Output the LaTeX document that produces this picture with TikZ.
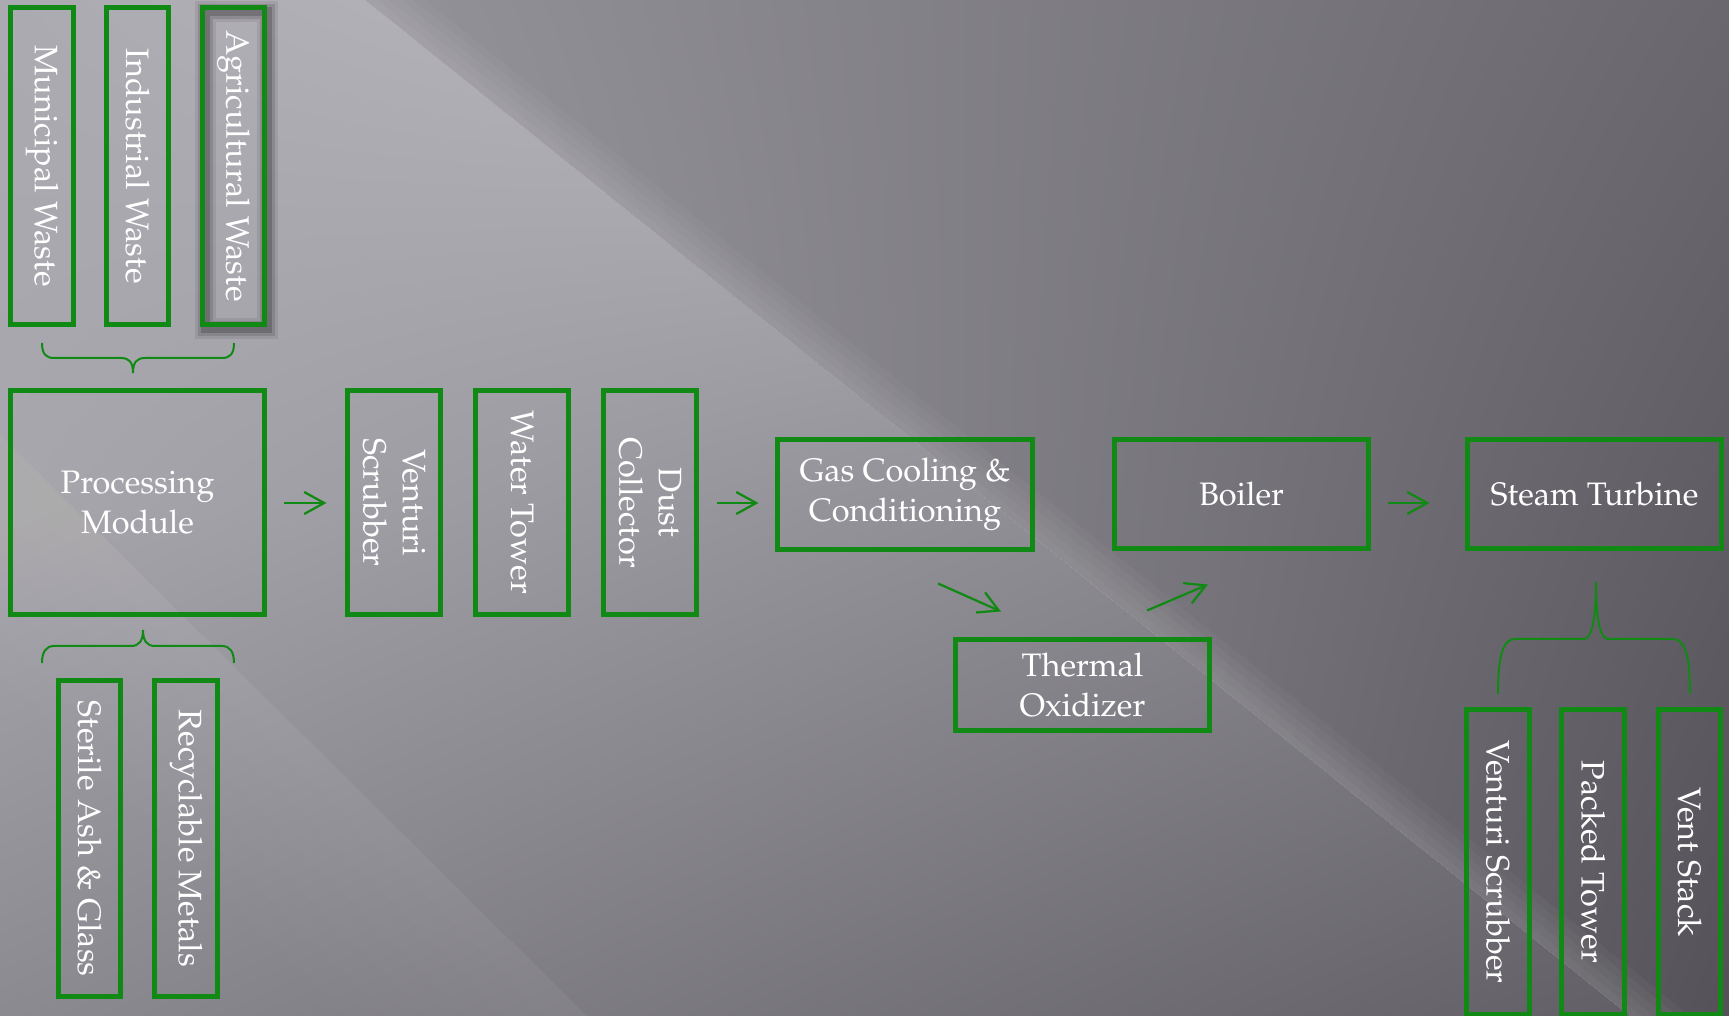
\documentclass[tikz,border=0pt]{standalone}
\usepackage[T1]{fontenc}
\usepackage{mathpazo}
\usepackage{tikz}
\usetikzlibrary{arrows.meta}
\usetikzlibrary{calc}
\usetikzlibrary{shadings}

\definecolor{boxgreen}{RGB}{17,137,21}
% left part of the background
\definecolor{lul}{RGB}{172,170,177}
\definecolor{lur}{RGB}{199,197,204}
\definecolor{lml}{RGB}{168,166,173}
\definecolor{lmr}{RGB}{130,128,135}
\definecolor{lll}{RGB}{140,138,145}
\definecolor{llr}{RGB}{98,96,102}
% right part of the background
\definecolor{rul}{RGB}{148,146,153}
\definecolor{rur}{RGB}{106,104,110}
\definecolor{rll}{RGB}{165,163,170}
\definecolor{rlr}{RGB}{84,82,88}

\begin{document}
\begin{tikzpicture}[x=0.02cm, y=-0.02cm]
	\useasboundingbox (0,0) rectangle (1729,1016);
	\clip (0,0) rectangle (1729,1016);

	% background
	\begin{scope}
		\clip (0,0) -- (365,0) -- (1630,1016) -- (0,1016) -- cycle;
		\shade[upper left=lul, upper right=lur, lower left=lml, lower right=lmr] (0,0) rectangle (1630,508.5);
		\shade[upper left=lml, upper right=lmr, lower left=lll, lower right=llr] (0,508) rectangle (1630,1016);
	\end{scope}
	\begin{scope}
		\clip (365,0) -- (1729,0) -- (1729,1016) -- (1630,1016) -- cycle;
		\shade[upper left=rul, upper right=rur, lower left=rll, lower right=rlr] (365,0) rectangle (1729,1016);
	\end{scope}
	\foreach \w in {12,24,...,60}{
		\fill[white, fill opacity=.03] (365,0) -- (365+\w,0) -- (1630+\w,1016) -- (1630,1016) -- cycle;
	}
	\foreach \w in {40,80,...,240}{
		\fill[white, fill opacity=.012] (-439-\w,0) -- (-439,0) -- (587,1016) -- (587-\w,1016) -- cycle;
	}

	\begin{scope}[every node/.style={rectangle, draw=boxgreen, line width=0.1cm, text=white, align=center, inner sep=2pt, font=\fontsize{18.5}{22.5}\selectfont},
	              vbox/.style={rotate=-90, minimum width=6.34cm, minimum height=1.25cm},
	              midbox/.style={rotate=-90, minimum width=4.48cm, minimum height=1.86cm},
	              wbox/.style={minimum width=5.1cm, minimum height=2.2cm},
	              shadowed/.style={preaction={draw=black, draw opacity=.08, line width=.42cm, transform canvas={xshift=.06cm, yshift=-.08cm}},
	                               preaction={draw=black, draw opacity=.12, line width=.3cm, transform canvas={xshift=.06cm, yshift=-.08cm}},
	                               preaction={draw=black, draw opacity=.18, line width=.18cm, transform canvas={xshift=.06cm, yshift=-.08cm}}}]
		\node[vbox] (1) at (42,166) {Municipal Waste};
		\node[vbox] (2) at (137.5,166) {Industrial Waste};
		\node[vbox, shadowed] (3) at (233.5,166) {Agricultural Waste};
		\node[minimum width=5.09cm, minimum height=4.48cm] (4) at (137.5,502.5) {Processing\\Module};
		\node[midbox] (5) at (394,502.5) {Venturi\\Scrubber};
		\node[midbox] (6) at (522,502.5) {Water Tower};
		\node[midbox] (7) at (650,502.5) {Dust\\Collector};
		\node[wbox] (8) at (905,494.5) {Gas Cooling \&\\Conditioning};
		\node[wbox] (9) at (1241.5,494) {Boiler};
		\node[wbox] (10) at (1594.5,494) {Steam Turbine};
		\node[minimum width=5.08cm, minimum height=1.82cm] (11) at (1082.5,685) {Thermal\\Oxidizer};
		\node[vbox] (12) at (89.5,838.5) {Sterile Ash \& Glass};
		\node[vbox] (13) at (186,838.5) {Recyclable Metals};
		\node[vbox, minimum width=6.12cm] (14) at (1498,862) {Venturi Scrubber};
		\node[vbox, minimum width=6.12cm] (15) at (1593,862) {Packed Tower};
		\node[vbox, minimum width=6.12cm] (16) at (1689.5,862) {Vent Stack};
	\end{scope}

	\begin{scope}[>={Straight Barb[length=0.4cm, width=0.44cm]},
	              every edge/.style={draw=boxgreen, line width=0.045cm}]
		\path ($(4.east)+(17,0.5)$) edge[->] ($(5.south)+(-18.5,0.5)$);
		\path ($(7.north)+(18.5,0.5)$) edge[->] ($(8.west)+(-16.5,8.5)$);
		\path ($(8.south)+(33,31.5)$) edge[->] ($(11.north)+(-81.5,-25.5)$);
		\path ($(11.north)+(64.5,-26.5)$) edge[->] ($(9.south)+(-33.5,33)$);
		\path ($(9.east)+(17,9)$) edge[->] ($(10.west)+(-35,9)$);
	\end{scope}

	% braces
	\coordinate (a1) at (42,343);
	\coordinate (a0) at (133,373);
	\coordinate (a3) at (234,343);
	\coordinate (b1) at (42,663);
	\coordinate (b0) at (143,630);
	\coordinate (b3) at (234,663);
	\coordinate (c1) at (1498,694);
	\coordinate (c0) at (1596,582);
	\coordinate (c3) at (1690,694);
	\begin{scope}[draw=boxgreen, line width=0.04cm]
		\draw (a1) .. controls +(0,11) and +(-8,0) .. ($(a1)+(12,15)$) -- ($(a0)+(-12,-15)$) .. controls +(8,0) and +(0,-11) .. (a0)
		           .. controls +(0,-11) and +(-8,0) .. ($(a0)+(12,-15)$) -- ($(a3)+(-12,15)$) .. controls +(8,0) and +(0,11) .. (a3);
		\draw (b1) .. controls +(0,-11) and +(-8,0) .. ($(b1)+(12,-17)$) -- ($(b0)+(-12,16)$) .. controls +(8,0) and +(0,11) .. (b0)
		           .. controls +(0,11) and +(-8,0) .. ($(b0)+(12,16)$) -- ($(b3)+(-12,-17)$) .. controls +(8,0) and +(0,-11) .. (b3);
		\draw (c1) .. controls +(0,-38) and +(-12,0) .. ($(c1)+(17,-55)$) -- ($(c0)+(-12,57)$) .. controls +(8,0) and +(0,36) .. (c0)
		           .. controls +(0,36) and +(-8,0) .. ($(c0)+(12,57)$) -- ($(c3)+(-17,-55)$) .. controls +(12,0) and +(0,-38) .. (c3);
	\end{scope}
\end{tikzpicture}
\end{document}
